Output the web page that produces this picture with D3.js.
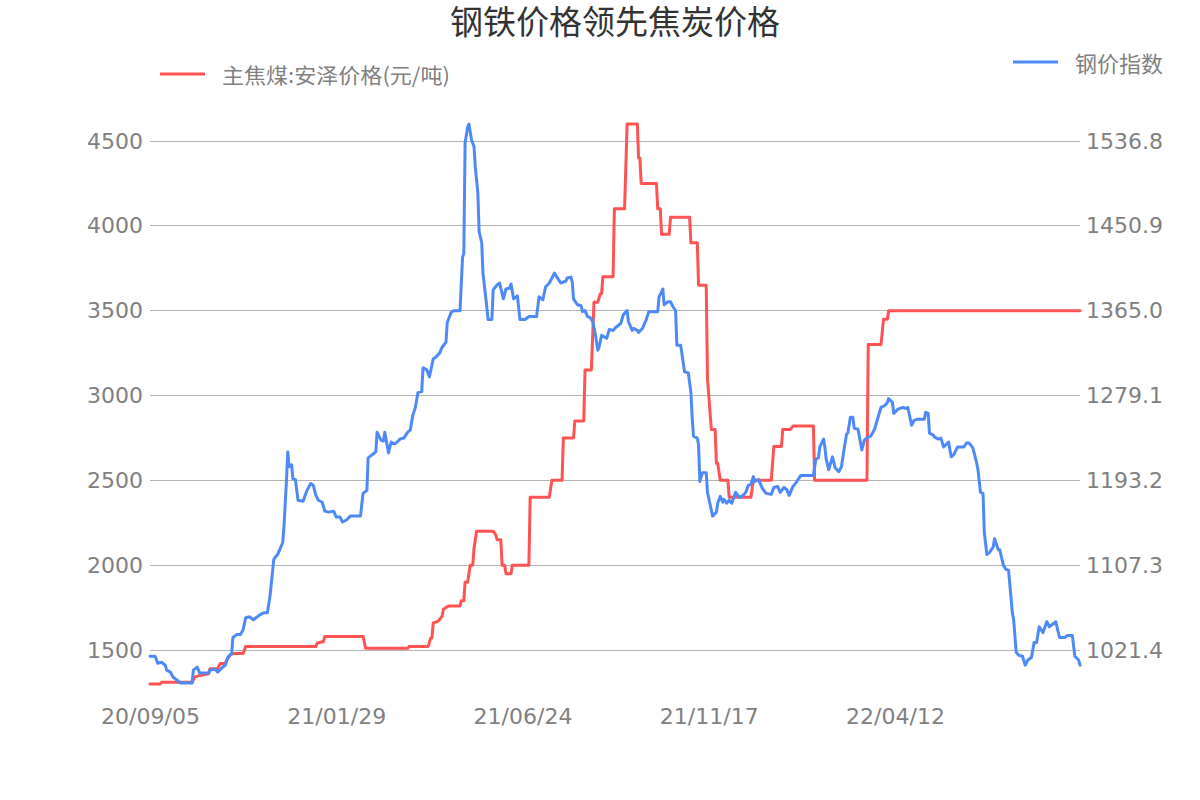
<!DOCTYPE html>
<html>
<head>
<meta charset="utf-8">
<script src="https://cdn.jsdelivr.net/npm/d3@7/dist/d3.min.js"></script>
<style>
  html, body { margin: 0; padding: 0; background: #fff; }
  svg { display: block; font-family: "DejaVu Sans", "Noto Sans CJK SC", sans-serif; }
</style>
</head>
<body>
<svg id="chart" width="1200" height="800"></svg>
<script>
// ---------------- data ----------------
const titleText = "钢铁价格领先焦炭价格";
const cokeName = "主焦煤:安泽价格(元/吨)";
const steelName = "钢价指数";
const startDate = "2020-09-05";
const endDay = 729;
const xTickDates = ["2020-09-05", "2021-01-29", "2021-06-24", "2021-11-17", "2022-04-12"];
const leftTicks = [1500, 2000, 2500, 3000, 3500, 4000, 4500];
const rightTicks = [1021.4, 1107.3, 1193.2, 1279.1, 1365.0, 1450.9, 1536.8];

// 主焦煤:安泽价格 (days since start, value)
const cokeDays = [0, 8, 9, 33, 35, 39, 46, 47, 53, 55, 59, 60, 63, 65, 73, 75, 130, 131, 136, 137, 167, 169, 202, 203, 218, 220, 221, 222, 226, 229, 230, 234, 243, 244, 246, 247, 249, 251, 253, 254, 256, 269, 271, 272, 275, 276, 278, 279, 283, 284, 297, 298, 313, 315, 323, 324, 332, 333, 340, 341, 346, 348, 351, 353, 354, 355, 363, 364, 372, 374, 382, 383, 384, 385, 397, 398, 400, 401, 407, 408, 423, 424, 429, 430, 436, 437, 440, 443, 444, 445, 447, 453, 454, 471, 473, 487, 489, 495, 496, 502, 504, 520, 521, 562, 563, 573, 575, 578, 579, 729];
const cokeValues = [1300, 1300, 1310, 1310, 1340, 1350, 1360, 1390, 1390, 1420, 1420, 1440, 1470, 1480, 1480, 1520, 1520, 1540, 1550, 1580, 1580, 1510, 1510, 1520, 1520, 1570, 1570, 1660, 1670, 1700, 1740, 1760, 1760, 1790, 1790, 1900, 1900, 2000, 2000, 2100, 2200, 2200, 2180, 2150, 2150, 2000, 2000, 1950, 1950, 2000, 2000, 2400, 2400, 2500, 2500, 2750, 2750, 2850, 2850, 3150, 3150, 3550, 3550, 3600, 3600, 3700, 3700, 4100, 4100, 4600, 4600, 4400, 4400, 4250, 4250, 4100, 4100, 3950, 3950, 4050, 4050, 3900, 3900, 3650, 3650, 3100, 2800, 2800, 2600, 2600, 2500, 2500, 2400, 2400, 2500, 2500, 2700, 2700, 2800, 2800, 2820, 2820, 2500, 2500, 3300, 3300, 3450, 3450, 3500, 3500];

// 钢价指数 (days since start, value on right axis)
const steelDays = [0, 4, 6, 9, 12, 13, 16, 18, 21, 24, 26, 33, 34, 37, 39, 42, 46, 47, 51, 53, 57, 59, 61, 64, 65, 68, 71, 73, 75, 78, 81, 84, 86, 89, 92, 94, 97, 98, 100, 104, 105, 107, 108, 109, 111, 112, 114, 116, 120, 123, 126, 128, 130, 132, 135, 137, 140, 144, 146, 149, 151, 154, 157, 165, 167, 170, 171, 174, 177, 178, 181, 183, 184, 187, 189, 192, 196, 199, 202, 204, 206, 208, 210, 213, 214, 217, 219, 222, 224, 227, 229, 232, 233, 236, 238, 243, 245, 246, 247, 249, 250, 252, 254, 255, 257, 258, 260, 261, 264, 265, 268, 269, 272, 274, 277, 279, 282, 283, 285, 288, 290, 294, 297, 303, 305, 308, 310, 313, 317, 319, 322, 326, 327, 330, 331, 332, 335, 338, 339, 341, 343, 345, 347, 349, 351, 352, 354, 358, 360, 363, 365, 369, 371, 374, 375, 378, 379, 382, 383, 386, 389, 391, 398, 399, 401, 402, 403, 406, 408, 410, 412, 413, 416, 419, 422, 424, 425, 426, 429, 430, 431, 433, 436, 437, 438, 441, 444, 445, 447, 449, 450, 452, 454, 456, 459, 462, 465, 467, 469, 471, 473, 474, 477, 480, 483, 487, 489, 492, 494, 497, 499, 501, 504, 506, 508, 510, 520, 522, 524, 525, 528, 529, 530, 532, 535, 537, 540, 542, 544, 546, 547, 549, 551, 552, 555, 558, 560, 563, 565, 568, 570, 573, 576, 578, 579, 582, 583, 586, 588, 590, 593, 594, 597, 599, 601, 607, 608, 610, 611, 614, 615, 618, 620, 622, 626, 628, 630, 633, 638, 640, 642, 645, 648, 649, 651, 653, 654, 656, 658, 661, 662, 665, 666, 669, 671, 673, 676, 677, 679, 681, 684, 686, 688, 691, 693, 695, 697, 700, 703, 705, 710, 713, 717, 719, 723, 725, 728, 729];
const steelValues = [1015, 1015, 1008, 1009, 1006, 1001, 999, 994, 991, 988, 988, 988, 1001, 1004, 998, 998, 998, 1001, 1002, 999, 1004, 1006, 1014, 1018, 1034, 1037, 1037, 1042, 1054, 1055, 1052, 1055, 1057, 1059, 1059, 1075, 1113, 1115, 1118, 1130, 1146, 1194, 1222, 1207, 1209, 1195, 1194, 1173, 1172, 1183, 1190, 1188, 1178, 1173, 1171, 1162, 1161, 1162, 1156, 1156, 1151, 1153, 1157, 1157, 1180, 1183, 1216, 1219, 1222, 1242, 1234, 1233, 1242, 1221, 1232, 1230, 1235, 1236, 1242, 1244, 1259, 1267, 1282, 1283, 1307, 1305, 1298, 1316, 1318, 1322, 1328, 1333, 1353, 1363, 1365, 1365, 1419, 1423, 1535, 1551, 1554, 1538, 1531, 1510, 1484, 1445, 1434, 1403, 1369, 1356, 1356, 1386, 1391, 1393, 1377, 1387, 1388, 1392, 1377, 1380, 1356, 1356, 1359, 1359, 1379, 1376, 1389, 1393, 1403, 1399, 1393, 1395, 1398, 1399, 1394, 1377, 1371, 1370, 1364, 1365, 1359, 1358, 1354, 1342, 1325, 1328, 1340, 1337, 1346, 1345, 1348, 1352, 1361, 1365, 1354, 1345, 1347, 1345, 1343, 1347, 1356, 1364, 1364, 1379, 1384, 1387, 1371, 1374, 1374, 1369, 1365, 1330, 1330, 1303, 1302, 1282, 1257, 1238, 1236, 1229, 1192, 1201, 1201, 1181, 1175, 1157, 1161, 1170, 1177, 1171, 1174, 1170, 1173, 1170, 1181, 1176, 1178, 1181, 1188, 1189, 1197, 1192, 1194, 1185, 1180, 1179, 1186, 1187, 1181, 1186, 1184, 1178, 1187, 1190, 1194, 1198, 1198, 1215, 1216, 1227, 1235, 1227, 1215, 1204, 1217, 1206, 1202, 1207, 1224, 1240, 1241, 1257, 1257, 1246, 1245, 1224, 1234, 1237, 1238, 1245, 1254, 1267, 1269, 1272, 1276, 1272, 1261, 1265, 1266, 1267, 1266, 1267, 1249, 1254, 1255, 1255, 1262, 1261, 1241, 1239, 1237, 1235, 1236, 1227, 1232, 1217, 1219, 1227, 1227, 1231, 1231, 1226, 1211, 1204, 1181, 1180, 1140, 1118, 1120, 1126, 1134, 1123, 1123, 1107, 1103, 1102, 1059, 1052, 1019, 1016, 1015, 1006, 1011, 1014, 1029, 1029, 1045, 1039, 1050, 1045, 1050, 1034, 1034, 1036, 1036, 1015, 1011, 1006];

// ---------------- drawing ----------------
const parse = d3.timeParse("%Y-%m-%d");
const start = parse(startDate);
const toDate = d => d3.timeDay.offset(start, d);

const cokeData = cokeDays.map((d, i) => ({ date: toDate(d), value: cokeValues[i] }));
const steelData = steelDays.map((d, i) => ({ date: toDate(d), value: steelValues[i] }));

const svg = d3.select("#chart");
const plot = { left: 150, right: 1080, top: 141, bottom: 650 };

const x = d3.scaleTime().domain([start, toDate(endDay)]).range([plot.left, plot.right]);
const yL = d3.scaleLinear().domain([1500, 4500]).range([plot.bottom, plot.top]);
const yR = d3.scaleLinear().domain([1021.4, 1536.8]).range([plot.bottom, plot.top]);

const textColor = "#808080";
const red = "#ff5252";
const blue = "#4e8af7";

// grid lines
svg.append("g")
  .selectAll("line")
  .data(leftTicks)
  .join("line")
  .attr("x1", plot.left).attr("x2", plot.right)
  .attr("y1", d => yL(d)).attr("y2", d => yL(d))
  .attr("stroke", "#b4b4b4").attr("stroke-width", 1)
  .attr("shape-rendering", "crispEdges");

// left axis
const leftAxis = d3.axisLeft(yL).tickValues(leftTicks).tickSize(0).tickPadding(7).tickFormat(d3.format("d"));
const gL = svg.append("g").attr("transform", `translate(${plot.left},0)`).call(leftAxis);
gL.select(".domain").remove();
gL.selectAll("text").attr("fill", textColor).attr("font-size", 22)
  .attr("font-family", "DejaVu Sans, sans-serif");

// right axis
const rightAxis = d3.axisRight(yR).tickValues(rightTicks).tickSize(0).tickPadding(6).tickFormat(d3.format(".1f"));
const gR = svg.append("g").attr("transform", `translate(${plot.right},0)`).call(rightAxis);
gR.select(".domain").remove();
gR.selectAll("text").attr("fill", textColor).attr("font-size", 22)
  .attr("font-family", "DejaVu Sans, sans-serif");

// x axis
const bottomAxis = d3.axisBottom(x).tickValues(xTickDates.map(parse)).tickSize(0).tickPadding(0)
  .tickFormat(d3.timeFormat("%y/%m/%d"));
const gX = svg.append("g").attr("transform", `translate(0,708)`).call(bottomAxis);
gX.select(".domain").remove();
gX.selectAll("text").attr("fill", textColor).attr("font-size", 22)
  .attr("font-family", "DejaVu Sans, sans-serif").attr("dy", "0.71em");

// lines
const lineL = d3.line().x(d => x(d.date)).y(d => yL(d.value));
const lineR = d3.line().x(d => x(d.date)).y(d => yR(d.value));

svg.append("path").datum(cokeData)
  .attr("d", lineL).attr("fill", "none").attr("stroke", red)
  .attr("stroke-width", 3).attr("stroke-linejoin", "round").attr("stroke-linecap", "round");

svg.append("path").datum(steelData)
  .attr("d", lineR).attr("fill", "none").attr("stroke", blue)
  .attr("stroke-width", 3).attr("stroke-linejoin", "round").attr("stroke-linecap", "round");

// title
svg.append("text").text(titleText)
  .attr("x", 615).attr("y", 20)
  .attr("text-anchor", "middle").attr("dominant-baseline", "central")
  .attr("font-family", "Noto Sans CJK SC, sans-serif")
  .attr("font-size", 33).attr("fill", "#333");

// legends
svg.append("line").attr("x1", 160).attr("x2", 205).attr("y1", 74).attr("y2", 74)
  .attr("stroke", red).attr("stroke-width", 3);
svg.append("text").text(cokeName)
  .attr("x", 222).attr("y", 74).attr("dominant-baseline", "central")
  .attr("font-family", "Noto Sans CJK SC, sans-serif")
  .attr("font-size", 21).attr("textLength", 228).attr("lengthAdjust", "spacingAndGlyphs")
  .attr("fill", textColor);

svg.append("line").attr("x1", 1013).attr("x2", 1058).attr("y1", 62).attr("y2", 62)
  .attr("stroke", blue).attr("stroke-width", 3);
svg.append("text").text(steelName)
  .attr("x", 1075).attr("y", 62).attr("dominant-baseline", "central")
  .attr("font-family", "Noto Sans CJK SC, sans-serif")
  .attr("font-size", 22).attr("fill", textColor);
</script>
</body>
</html>
